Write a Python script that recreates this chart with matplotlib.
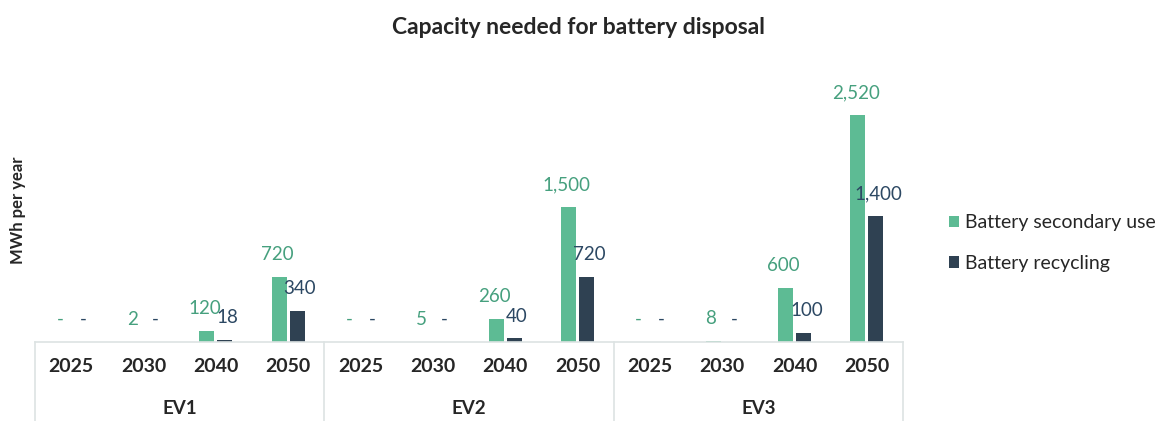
import matplotlib
matplotlib.use("Agg")
import matplotlib.pyplot as plt
from matplotlib.patches import Patch
from matplotlib.lines import Line2D

scenarios = ["EV1", "EV2", "EV3"]
years = ["2025", "2030", "2040", "2050"]
secondary_use = [
    [0, 2, 120, 720],
    [0, 5, 260, 1500],
    [0, 8, 600, 2520],
]
recycling = [
    [0, 0, 18, 340],
    [0, 0, 40, 720],
    [0, 0, 100, 1400],
]
series_names = ["Battery secondary use", "Battery recycling"]

GREEN = "#5dbb94"
DARK = "#2f4152"
GREEN_TXT = "#46a07e"
DARK_TXT = "#2c4863"
GRID = "#dde3e3"

plt.rcParams["font.family"] = ["Lato", "DejaVu Sans"]

W, H = 1159, 421
fig = plt.figure(figsize=(W / 100, H / 100), dpi=100)
fig.patch.set_facecolor("white")

# axes box in pixel coordinates (left, top, right, bottom)
x0, x1 = 35, 903
y_base, y_top = 342, 80
ax = fig.add_axes([x0 / W, 1 - y_base / H, (x1 - x0) / W, (y_base - y_top) / H])
ax.set_xlim(0, 12)
ax.set_ylim(0, 2908)
ax.axis("off")

bw = 0.21
off = 0.125
for g in range(len(scenarios)):
    for c in range(len(years)):
        xc = g * 4 + c + 0.5
        for vals, dx, col, tcol, nudge in ((secondary_use, -off, GREEN, GREEN_TXT, -1.5),
                                           (recycling, off, DARK, DARK_TXT, 2.0)):
            v = vals[g][c]
            ax.bar(xc + dx, v, width=bw, color=col, linewidth=0)
            label = "-" if v == 0 else f"{v:,}"
            ax.annotate(label, (xc + dx, v), xytext=(nudge, 10),
                        textcoords="offset points", ha="center", va="bottom",
                        fontsize=13.5, color=tcol)

# category table beneath the bars
def fx(px):
    return px / W

def fy(py):
    return 1 - py / H

fig.add_artist(Line2D([fx(x0), fx(x1)], [fy(y_base), fy(y_base)], color=GRID, lw=1.2))
unit = (x1 - x0) / 12
for g in range(len(scenarios) + 1):
    xb = x0 + g * 4 * unit
    fig.add_artist(Line2D([fx(xb), fx(xb)], [fy(y_base), 0], color=GRID, lw=1.2))

for g, name in enumerate(scenarios):
    for c, yr in enumerate(years):
        xc = x0 + (g * 4 + c + 0.5) * unit
        fig.text(fx(xc), fy(367), yr, ha="center", va="center",
                 fontsize=14, fontweight="bold", color="#262626")
    xg = x0 + (g * 4 + 2) * unit
    fig.text(fx(xg), fy(409), name, ha="center", va="center",
             fontsize=13.5, fontweight="bold", color="#262626")

fig.text(fx(578), fy(27), "Capacity needed for battery disposal", ha="center",
         va="center", fontsize=16.5, fontweight="bold", color="#262626")
fig.text(fx(18), fy(210), "MWh per year", ha="center", va="center",
         rotation=90, fontsize=12, fontweight="bold", color="#262626")

handles = [Patch(facecolor=GREEN, edgecolor="none"),
           Patch(facecolor=DARK, edgecolor="none")]
fig.legend(handles, series_names, loc="center left",
           bbox_to_anchor=(fx(931), fy(243)), frameon=False, fontsize=14,
           handlelength=0.55, handleheight=0.55, handletextpad=0.3,
           labelspacing=1.2, labelcolor="#262626")

fig.savefig("out.png", dpi=100, facecolor="white")
